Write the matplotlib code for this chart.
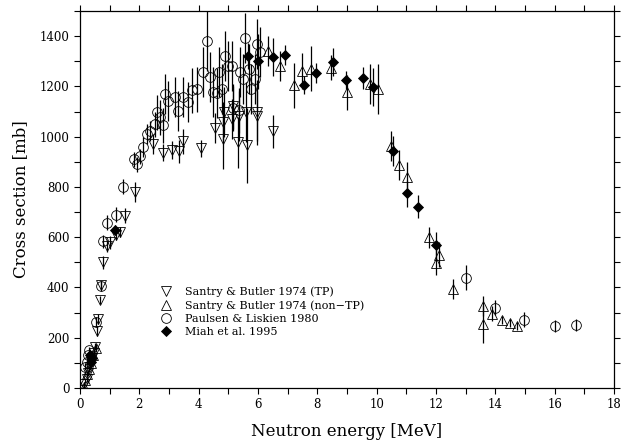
import matplotlib
matplotlib.use("Agg")
import matplotlib.pyplot as plt
from matplotlib.lines import Line2D
from matplotlib.ticker import MultipleLocator

# Santry & Butler 1974 (TP): energy [MeV], cross section [mb], error [mb]
tp_e = [0.15, 0.22, 0.28, 0.33, 0.38, 0.42, 0.47, 0.52, 0.57, 0.62, 0.68, 0.72,
        0.78, 0.92, 1.0, 1.2, 1.35, 1.52, 1.85, 2.47, 2.81, 3.1, 3.35, 3.48,
        4.07, 4.55, 4.82, 4.82, 4.86, 5.12, 5.17, 5.33, 5.36, 5.6, 5.63, 5.97,
        5.97, 6.5]
tp_s = [15, 35, 60, 85, 105, 120, 140, 165, 225, 275, 350, 410,
        500, 565, 580, 610, 620, 685, 780, 970, 937, 946, 942, 982,
        953, 1034, 990, 1057, 1097, 1069, 1121, 977, 1081, 1097, 966, 1097,
        1081, 1021]
tp_err = [10, 10, 12, 12, 15, 15, 15, 15, 20, 20, 15, 15,
          25, 25, 25, 20, 20, 30, 40, 40, 35, 35, 45, 50,
          35, 60, 120, 80, 100, 80, 90, 100, 100, 120, 150, 130,
          100, 65]

# Santry & Butler 1974 (non-TP)
ntp_e = [0.12, 0.18, 0.25, 0.3, 0.38, 0.45, 0.55, 6.35, 6.75, 7.22, 7.47, 7.77,
         8.47, 9.0, 9.78, 10.05, 10.49, 10.76, 11.03, 11.77, 12.0, 12.1, 12.58,
         13.59, 13.59, 13.9, 14.23, 14.5, 14.74]
ntp_s = [5, 30, 55, 75, 100, 130, 160, 1341, 1281, 1205, 1261, 1271,
         1275, 1177, 1209, 1189, 962, 886, 838, 599, 499, 531, 395,
         327, 255, 295, 271, 259, 247]
ntp_err = [8, 10, 12, 12, 15, 15, 15, 60, 60, 90, 70, 90,
           50, 70, 80, 100, 60, 60, 60, 40, 50, 50, 40,
           40, 75, 30, 15, 15, 15]

# Paulsen & Liskien 1980
pl_e = [0.18, 0.22, 0.27, 0.32, 0.54, 0.71, 0.78, 0.9, 1.2, 1.45, 1.82, 1.92,
        2.02, 2.12, 2.26, 2.36, 2.53, 2.6, 2.7, 2.8, 2.87, 2.97, 3.2, 3.3,
        3.48, 3.64, 3.78, 3.95, 4.15, 4.28, 4.38, 4.48, 4.62, 4.69, 4.79, 4.89,
        4.99, 5.12, 5.16, 5.35, 5.4, 5.5, 5.57, 5.7, 5.77, 5.9, 5.97, 6.07,
        13.0, 14.0, 14.97, 16.02, 16.73]
pl_s = [85, 105, 130, 150, 263, 407, 583, 658, 690, 800, 910, 890,
        922, 958, 1009, 1021, 1049, 1097, 1077, 1045, 1169, 1141, 1157, 1101,
        1157, 1137, 1185, 1189, 1257, 1380, 1237, 1177, 1173, 1257, 1189, 1321,
        1281, 1281, 1113, 1105, 1257, 1229, 1393, 1269, 1189, 1229, 1369, 1337,
        439, 319, 271, 247, 251]
pl_err = [15, 15, 15, 15, 20, 20, 25, 30, 30, 30, 30, 30,
          30, 40, 40, 40, 50, 70, 70, 70, 80, 80, 80, 80,
          80, 80, 90, 90, 100, 120, 100, 100, 100, 100, 100, 100,
          100, 100, 90, 90, 100, 100, 100, 100, 100, 100, 100, 100,
          50, 30, 30, 25, 25]

# Miah et al. 1995
mi_e = [0.34, 0.37, 0.42, 1.18, 5.67, 6.0, 6.5, 6.9, 7.55, 7.96, 8.53, 8.95,
        9.55, 9.88, 10.56, 11.03, 11.4, 12.0]
mi_s = [132, 104, 120, 630, 1321, 1300, 1317, 1325, 1205, 1253, 1297, 1225,
        1233, 1197, 942, 774, 722, 567]
mi_err = [15, 15, 15, 20, 50, 110, 75, 40, 35, 40, 55, 35,
          45, 75, 60, 55, 45, 55]

labels = ["Santry & Butler 1974 (TP)", "Santry & Butler 1974 (non\u2212TP)",
          "Paulsen & Liskien 1980", "Miah et al. 1995"]

plt.rcParams['font.family'] = ['DejaVu Serif']

fig = plt.figure(figsize=(6.22, 4.45), dpi=100)
ax = fig.add_axes([80 / 622, 1 - 388 / 445, 534 / 622, 377 / 445])

series = [
    (tp_e, tp_s, tp_err, 'v', 'none'),
    (ntp_e, ntp_s, ntp_err, '^', 'none'),
    (pl_e, pl_s, pl_err, 'o', 'none'),
    (mi_e, mi_s, mi_err, 'D', 'black'),
]
handles = []
for (e, s, err, m, fc), lab in zip(series, labels):
    ms = 5.5 if m == 'D' else 7
    ax.errorbar(e, s, yerr=err, fmt=m, ms=ms, mfc=fc, mec='black', mew=0.6,
                ecolor='black', elinewidth=0.9, capsize=0)
    handles.append(Line2D([], [], ls='none', marker=m, ms=ms, mfc=fc,
                          mec='black', mew=0.6, label=lab))

ax.legend(handles=handles, loc='upper left', bbox_to_anchor=(0.14, 0.285),
          frameon=False, fontsize=8, handlelength=1.0, handletextpad=1.2,
          labelspacing=0.3, borderpad=0)

ax.set_xlim(0, 18)
ax.set_ylim(0, 1500)
ax.xaxis.set_major_locator(MultipleLocator(2))
ax.xaxis.set_minor_locator(MultipleLocator(1))
ax.yaxis.set_major_locator(MultipleLocator(200))
ax.yaxis.set_minor_locator(MultipleLocator(100))
ax.tick_params(which='both', direction='out', top=True, right=True,
               labelsize=8.5, width=0.8)
ax.tick_params(which='major', length=4)
ax.tick_params(which='minor', length=4)
for sp in ax.spines.values():
    sp.set_linewidth(0.9)

ax.set_xlabel('Neutron energy [MeV]', fontsize=12, labelpad=8)
ax.set_ylabel('Cross section [mb]', fontsize=12, labelpad=8)

fig.savefig('out.png', dpi=100)
